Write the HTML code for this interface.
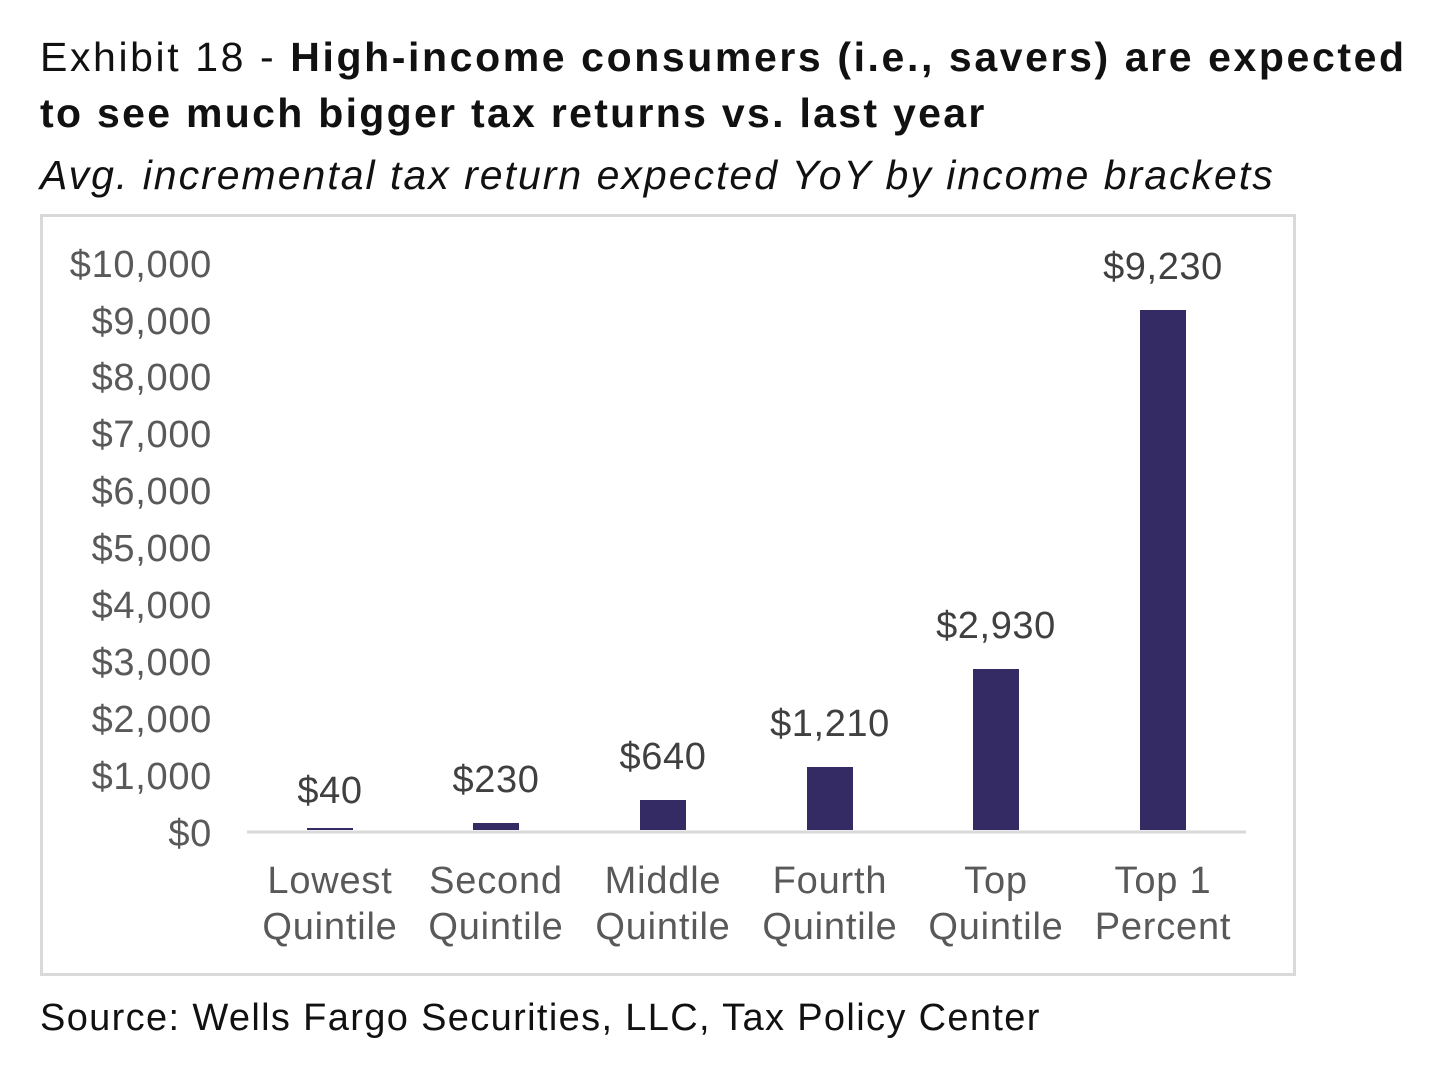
<!DOCTYPE html>
<html><head><meta charset="utf-8"><style>
body{margin:0;background:#fff;width:1440px;height:1072px;position:relative;overflow:hidden;font-family:"Liberation Sans",sans-serif;color:#111}
.t{position:absolute;left:40px;font-size:41px;line-height:1;white-space:nowrap}
</style></head><body>
<div class="t" style="top:37px;letter-spacing:2.6px">Exhibit 18 - <b>High-income consumers (i.e., savers) are expected</b></div>
<div class="t" style="top:93px;letter-spacing:2.3px"><b>to see much bigger tax returns vs. last year</b></div>
<div class="t" style="top:155px;font-style:italic;letter-spacing:2px">Avg. incremental tax return expected YoY by income brackets</div>
<div class="t" style="top:999px;font-size:38px;letter-spacing:1.35px">Source: Wells Fargo Securities, LLC, Tax Policy Center</div>
<svg width="1440" height="1072" style="position:absolute;left:0;top:0">
<rect x="41.5" y="215.5" width="1253" height="759" fill="none" stroke="#d9d9d9" stroke-width="3"/>
<g font-family="Liberation Sans, sans-serif" font-size="38" letter-spacing="0.7" fill="#595959" text-anchor="end">
<text x="212" y="277">$10,000</text><text x="212" y="334">$9,000</text><text x="212" y="390">$8,000</text><text x="212" y="447">$7,000</text><text x="212" y="504">$6,000</text><text x="212" y="561">$5,000</text><text x="212" y="618">$4,000</text><text x="212" y="675">$3,000</text><text x="212" y="732">$2,000</text><text x="212" y="789">$1,000</text><text x="212" y="846">$0</text>
</g>
<line x1="247" y1="832" x2="1246" y2="832" stroke="#d9d9d9" stroke-width="3"/>
<g fill="#352b64">
<rect x="307" y="828" width="46" height="2"/>
<rect x="473" y="823" width="46" height="7"/>
<rect x="640" y="800" width="46" height="30"/>
<rect x="807" y="767" width="46" height="63"/>
<rect x="973" y="669" width="46" height="161"/>
<rect x="1140" y="310" width="46" height="520"/>
</g>
<g font-family="Liberation Sans, sans-serif" font-size="38" letter-spacing="0.6" fill="#404040" text-anchor="middle">
<text x="330" y="803">$40</text><text x="496" y="792">$230</text><text x="663" y="769">$640</text><text x="830" y="736">$1,210</text><text x="996" y="638">$2,930</text><text x="1163" y="279">$9,230</text>
</g>
<g font-family="Liberation Sans, sans-serif" font-size="38" letter-spacing="0.8" fill="#595959" text-anchor="middle">
<text x="330" y="893">Lowest</text><text x="330" y="939">Quintile</text>
<text x="496" y="893">Second</text><text x="496" y="939">Quintile</text>
<text x="663" y="893">Middle</text><text x="663" y="939">Quintile</text>
<text x="830" y="893">Fourth</text><text x="830" y="939">Quintile</text>
<text x="996" y="893">Top</text><text x="996" y="939">Quintile</text>
<text x="1163" y="893">Top 1</text><text x="1163" y="939">Percent</text>
</g>
</svg>
</body></html>
